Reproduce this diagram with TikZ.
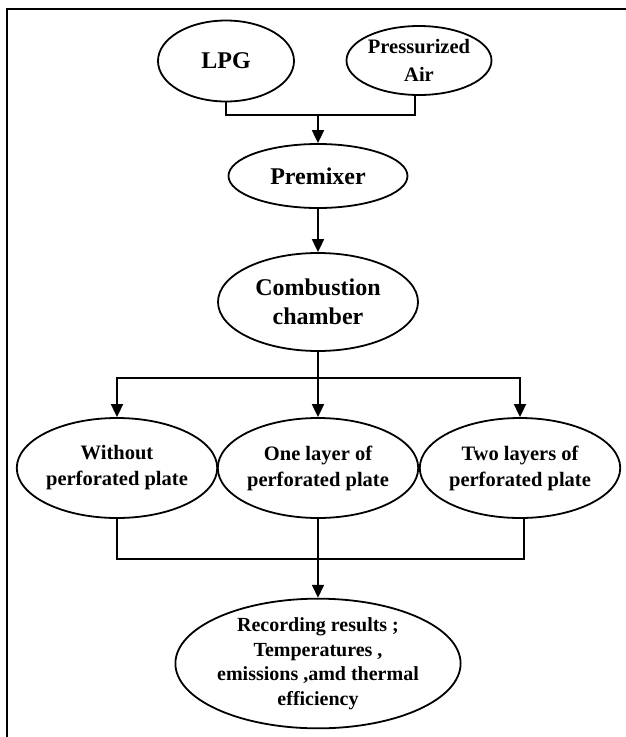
\documentclass[tikz,border=0pt]{standalone}
\usepackage{fontspec}
\setmainfont{Liberation Serif}
\usetikzlibrary{shapes.geometric,arrows.meta}
\begin{document}
\begin{tikzpicture}[x=1pt,y=-1pt,
  oval/.style={ellipse,draw,line width=1.8pt,inner sep=0pt,align=center,
    font=\bfseries\fontsize{20.5}{26}\selectfont},
  big/.style={font=\bfseries\fontsize{24}{29}\selectfont},
  conn/.style={line width=1.8pt},
  arr/.style={conn,-{Triangle[length=13pt,width=12pt]}}]
\useasboundingbox (0,0) rectangle (626,737);
\draw[line width=1.8pt] (7,737) -- (7,9) -- (626,9);

\node[oval,big,minimum width=136pt,minimum height=81pt] (lpg) at (226,61) {LPG};
\node[oval,minimum width=145pt,minimum height=69pt,font=\bfseries\fontsize{20.5}{28}\selectfont] (air) at (419,60.5) {Pressurized\\Air};
\node[oval,big,minimum width=179pt,minimum height=64pt] (pre) at (318,176) {Premixer};
\node[oval,big,minimum width=200pt,minimum height=98pt] (comb) at (318,302) {Combustion\\chamber};
\node[oval,minimum width=199pt,minimum height=100pt] (n1) at (117,468) {Without\\perforated plate};
\node[oval,minimum width=199pt,minimum height=100pt] (n2) at (318,468) {One layer of\\perforated plate};
\node[oval,minimum width=199pt,minimum height=100pt] (n3) at (520,468) {Two layers of\\perforated plate};
\node[oval,minimum width=262pt,minimum height=129pt,font=\bfseries\fontsize{20}{24.5}\selectfont] (res) at (318,663.5)
  {Recording results ;\\Temperatures ,\\emissions ,amd thermal\\efficiency};

\coordinate (j1) at (318,115);
\coordinate (airb) at ([xshift=-4pt]air.south);
\draw[conn] (lpg.south) |- (j1) -| (airb);
\draw[arr] (j1) -- (pre.north);
\draw[arr] (pre.south) -- (comb.north);

\coordinate (j2) at (318,378);
\draw[conn] (comb.south) -- (j2);
\draw[arr] (j2) -| (n1.north);
\draw[arr] (j2) -| (n3.north);
\draw[arr] (j2) -- (n2.north);

\coordinate (j3) at (318,559);
\coordinate (n3b) at ([xshift=4pt]n3.south);
\draw[conn] (n1.south) |- (j3) -| (n3b);
\draw[conn] (n2.south) -- (j3);
\draw[arr] (j3) -- (res.north);
\end{tikzpicture}
\end{document}
